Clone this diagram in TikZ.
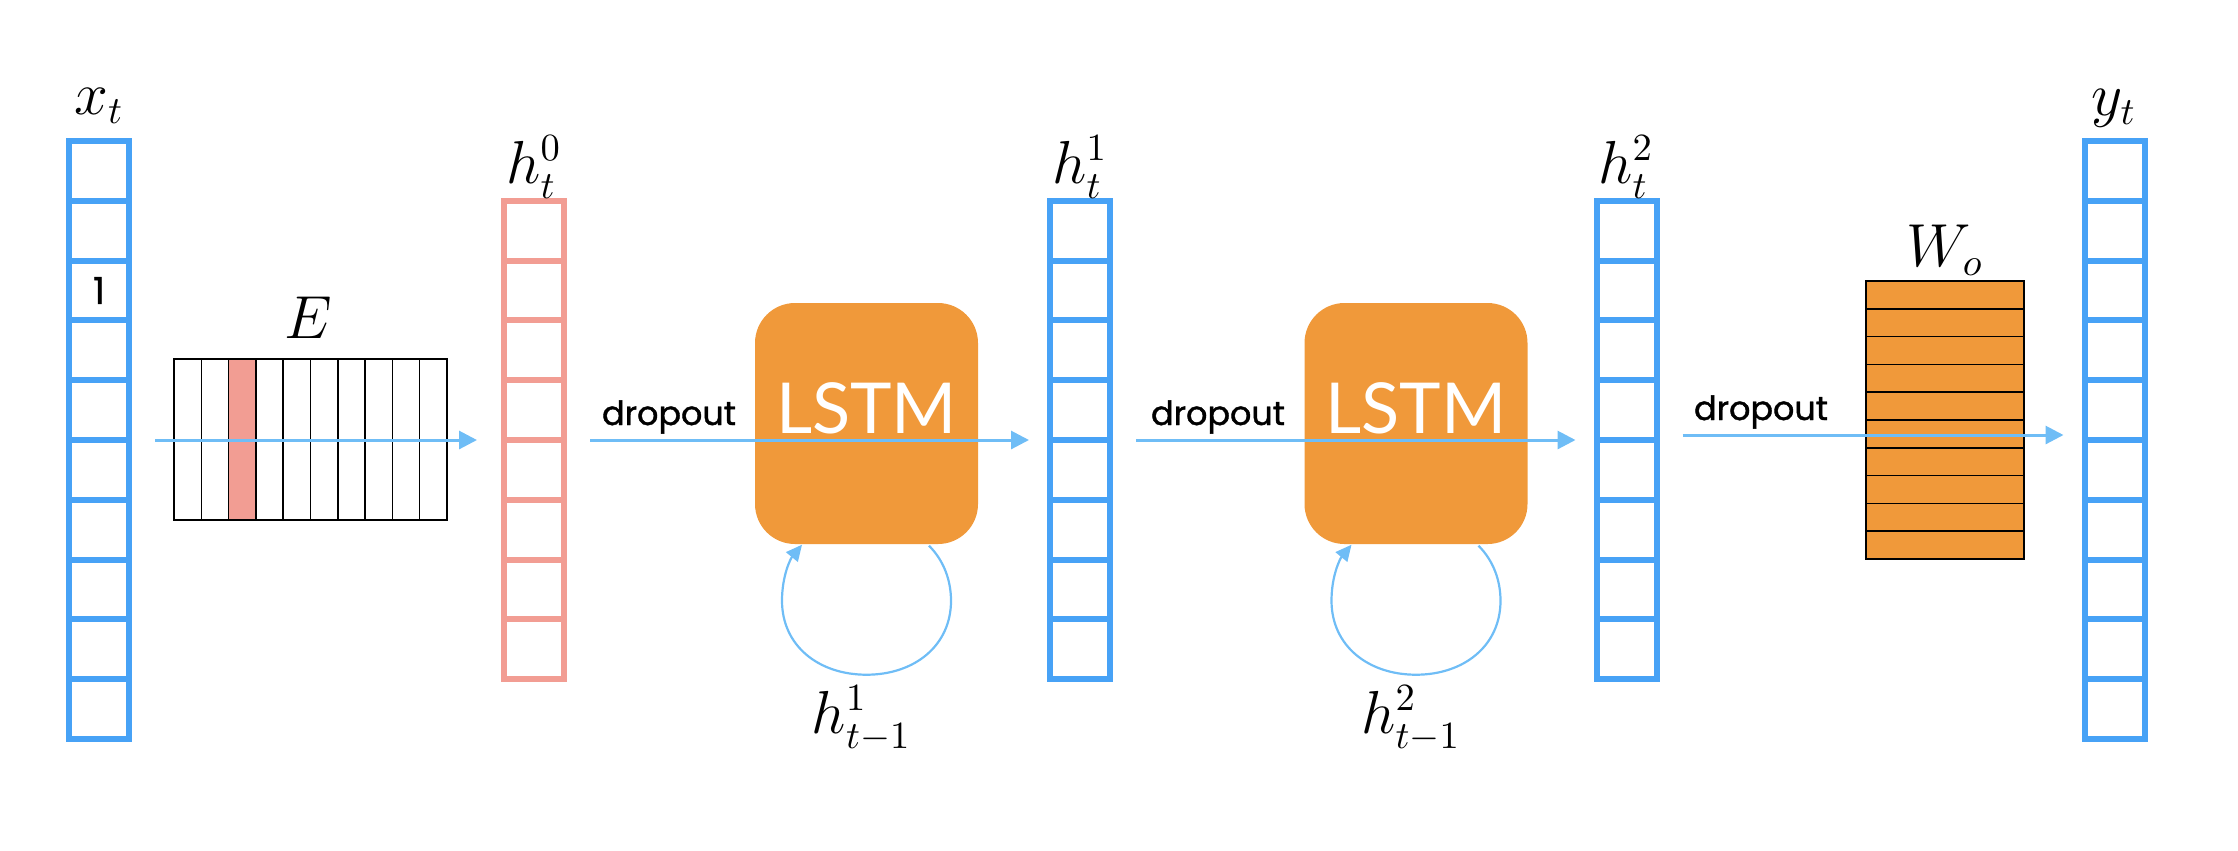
\documentclass[tikz,border=0pt]{standalone}
\usepackage{fontspec}
\usepackage{tikz}
\usetikzlibrary{arrows.meta, positioning, calc}
\newfontfamily\dropfont{Poppins}[FakeBold=1.2]
\newfontfamily\lstmfont{Lato}
\definecolor{VecBlue}{HTML}{47A2F6}
\definecolor{VecRed}{HTML}{F29D93}
\definecolor{FlowBlue}{HTML}{6FBDF6}
\definecolor{LstmOrange}{HTML}{F0993A}
\tikzset{
    % Vector and matrix styles
    vecbox/.style={
        rectangle,
        line width=0.6mm,
        minimum width=6mm,
        inner sep=0pt,
        outer sep=0pt
    },
    matbox/.style={
        rectangle,
        inner sep=0pt,
        outer sep=0pt
    },
    gridline/.style={
        black,
        line width=0.15mm
    },
    lstmbox/.style={
        rectangle,
        rounded corners=4mm,
        fill=LstmOrange,
        minimum width=22.3mm,
        minimum height=24.1mm,
        inner sep=0pt,
        text=white,
        text depth=3mm,
        font=\lstmfont\fontsize{20}{24}\selectfont
    },
    % Label styles
    veclabel/.style={
        anchor=base,
        inner sep=0pt,
        font=\fontsize{16}{19}\selectfont
    },
    droplabel/.style={
        anchor=base,
        inner sep=0pt,
        font=\dropfont\fontsize{9.5}{11}\selectfont
    },
    % Arrow styles
    flow/.style={
        -{Triangle[length=1.8mm,width=1.8mm]},
        FlowBlue,
        line width=0.3mm,
        shorten <=2.6mm,
        shorten >=2.1mm
    },
    recur/.style={
        -{Triangle[length=1.6mm,width=1.5mm]},
        FlowBlue,
        line width=0.22mm
    }
}

\begin{document}
\begin{tikzpicture}[x=0.1mm, y=-0.1mm]
    \useasboundingbox (0,0) rectangle (2238,850);

    % Vectors
    \foreach \name/\cx/\n/\col in {xt/99/10/VecBlue, h0/534/8/VecRed, h1/1080/8/VecBlue, h2/1626.5/8/VecBlue, yt/2114.5/10/VecBlue} {
        \node[vecbox, draw=\col, minimum height=\n*5.98mm] (\name) at (\cx,440) {};
        \pgfmathtruncatemacro\m{\n-1}
        \foreach \i in {1,...,\m}
            \draw[\col, line width=0.6mm] ($(\name.north west)!\i/\n!(\name.south west)$) -- ($(\name.north east)!\i/\n!(\name.south east)$);
    }
    \node[veclabel] (xtlab) at (99,114) {$x_t$};
    \node[veclabel] (h0lab) at (534,183) {$h_t^0$};
    \node[veclabel] (h1lab) at (1080,183) {$h_t^1$};
    \node[veclabel] (h2lab) at (1626,183) {$h_t^2$};
    \node[veclabel] (ytlab) at (2114,115) {$y_t$};
    \node[droplabel, anchor=center, font=\dropfont\fontsize{10.5}{12}\selectfont] (one) at ($(xt.north)!0.25!(xt.south)$) {1};

    % Embedding matrix
    \node[matbox, minimum width=27.3mm, minimum height=16.1mm] (emb) at (310.5,439.5) {};
    \fill[VecRed] ($(emb.north west)!0.2!(emb.north east)$) rectangle ($(emb.south west)!0.3!(emb.south east)$);
    \draw[gridline] (emb.north west) rectangle (emb.south east);
    \foreach \i in {1,...,9}
        \draw[gridline] ($(emb.north west)!\i/10!(emb.north east)$) -- ($(emb.south west)!\i/10!(emb.south east)$);
    \node[veclabel] (elab) at (308,338) {$E$};

    % Output matrix
    \node[matbox, draw=black, line width=0.15mm, fill=LstmOrange, minimum width=15.8mm, minimum height=27.8mm] (wo) at (1945,420) {};
    \foreach \i in {1,...,9}
        \draw[gridline] ($(wo.north west)!\i/10!(wo.south west)$) -- ($(wo.north east)!\i/10!(wo.south east)$);
    \node[veclabel] (wolab) at (1945,266) {$W_o$};

    % LSTM cells
    \node[lstmbox] (lstm1) at (866.5,423.5) {LSTM};
    \node[lstmbox] (lstm2) at (1416,423.5) {LSTM};

    % Recurrent loops
    \foreach \c in {lstm1, lstm2}
        \draw[recur] ($(\c.south)+(62.5,1)$)
            .. controls ($(\c.south)+(77.5,16)$) and ($(\c.south)+(84.5,36)$) .. ($(\c.south)+(84.5,56)$)
            .. controls ($(\c.south)+(84.5,101)$) and ($(\c.south)+(48,130)$) .. ($(\c.south)+(0,130)$)
            .. controls ($(\c.south)+(-48,130)$) and ($(\c.south)+(-84.5,101)$) .. ($(\c.south)+(-84.5,56)$)
            .. controls ($(\c.south)+(-84.5,31)$) and ($(\c.south)+(-76,14)$) .. ($(\c.south)+(-64.5,0)$);
    \node[veclabel, anchor=center] (r1lab) at ($(lstm1.south)+(-5,174)$) {$h_{t-1}^1$};
    \node[veclabel, anchor=center] (r2lab) at ($(lstm2.south)+(-5,174)$) {$h_{t-1}^2$};

    % Forward arrows
    \draw[flow, shorten >=2.7mm] (xt) -- (h0);
    \draw[flow] (h0) -- (h1);
    \draw[flow] (h1) -- (h2);
    \draw[flow] ([yshift=0.5mm]h2.east) -- ([yshift=0.5mm]yt.west);
    \node[droplabel] (drop1) at (669,425) {dropout};
    \node[droplabel] (drop2) at (1218,425) {dropout};
    \node[droplabel] (drop3) at (1761,420) {dropout};
\end{tikzpicture}
\end{document}
